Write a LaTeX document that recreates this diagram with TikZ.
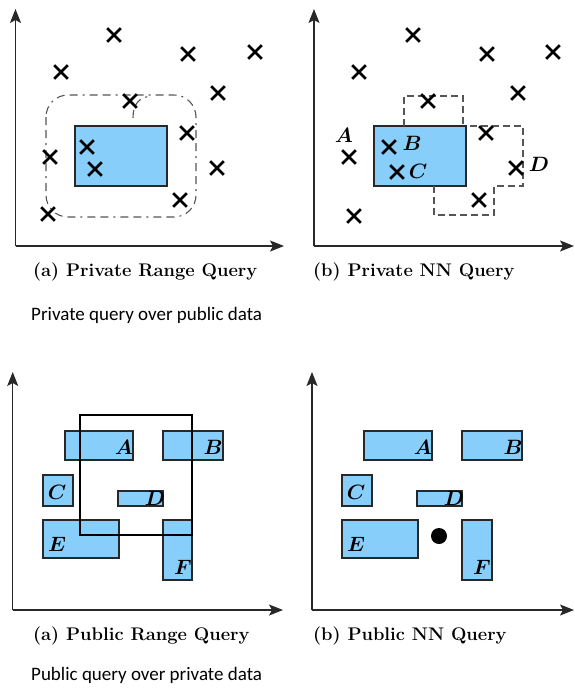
\documentclass[tikz,border=0pt]{standalone}
\usepackage{fontspec}
\newfontfamily\notefont{Carlito}
\usetikzlibrary{shapes.misc,arrows.meta,fit}
\definecolor{boxblue}{RGB}{135,206,250}
\definecolor{edgegray}{RGB}{40,40,40}
\definecolor{dashgray}{RGB}{85,85,85}
\tikzset{
  axis/.style={line width=1.2pt, draw=edgegray, -{Stealth[length=14pt,width=11pt,inset=3pt]}},
  datum/.style={cross out, draw=black, line width=2.7pt, inner sep=0pt, minimum size=11pt},
  region/.style={fill=boxblue, draw=edgegray, line width=1.2pt, inner sep=0pt},
  query/.style={draw=black, line width=1.1pt, inner sep=0pt},
  lab/.style={font=\fontsize{19.5}{22}\selectfont\boldmath, inner sep=0pt},
  caption/.style={font=\fontsize{18.3}{21}\selectfont\bfseries, anchor=base west, inner sep=0pt},
  note/.style={font=\fontsize{19}{22}\selectfont\notefont, anchor=base west, inner sep=0pt},
  rangeline/.style={draw=dashgray, line width=1.1pt, dash pattern=on 8pt off 5pt on 8pt off 5pt on 2pt off 5pt},
  nnline/.style={draw=dashgray, line width=1.1pt, dash pattern=on 7pt off 4pt},
}
\begin{document}
\begin{tikzpicture}[x=1pt, y=-1pt]
\useasboundingbox (0,0) rectangle (575,691);

% ---------- (a) private range query ----------
\coordinate (o1) at (15.5,246);
\coordinate (y1) at (15.5,9);
\coordinate (x1) at (284,246);
\draw[axis] (o1) -- (y1);
\draw[axis] (o1) -- (x1);
\draw[rangeline, rounded corners=22pt] (46,95) rectangle (196,217);
\draw[rangeline] (133,118) .. controls (133,104) and (139,97) .. (152,96);
\node[region, fit={(75,126)(167,186)}] (r1) {};
\foreach \n/\p in {a/{(114,35)}, b/{(188,54)}, c/{(255,52)}, d/{(61,72)},
                   e/{(218,93)}, f/{(130,101)}, g/{(187,133)}, h/{(87,147)},
                   i/{(50,157)}, j/{(95,169)}, k/{(217,168)}, l/{(180,200)},
                   m/{(48,214)}}
  \node[datum] (p1\n) at \p {};
\node[caption] (c1) at (33,276) {(a) Private Range Query};

% ---------- (b) private NN query ----------
\coordinate (o2) at (314,246);
\coordinate (y2) at (314,9);
\coordinate (x2) at (574,246);
\draw[axis] (o2) -- (y2);
\draw[axis] (o2) -- (x2);
\node[region, fit={(374,126)(466,186)}] (r2) {};
\draw[nnline] (404,126) -- (404,96) -- (463,96) -- (463,126);
\draw[nnline] (470,126) -- (523,126) -- (523,186) -- (494,186);
\draw[nnline] (434,186) -- (434,215) -- (494,215) -- (494,186);
\foreach \n/\p in {a/{(413,35)}, b/{(487,54)}, c/{(553,52)}, d/{(359,72)},
                   e/{(518,93)}, f/{(428,101)}, g/{(486,133)}, h/{(389,147)},
                   i/{(349,157)}, j/{(397,172)}, k/{(516,168)}, l/{(479,200)},
                   m/{(354,216)}}
  \node[datum] (p2\n) at \p {};
\node[lab] (nA) at (344,135) {$A$};
\node[lab] (nB) at (412,143) {$B$};
\node[lab] (nC) at (418,171) {$C$};
\node[lab] (nD) at (539,164) {$D$};
\node[caption] (c2) at (313,276) {(b) Private NN Query};

\node[note] (n1) at (31,320) {Private query over public data};

% ---------- (a) public range query ----------
\coordinate (o3) at (12.7,610);
\coordinate (y3) at (12.7,372);
\coordinate (x3) at (283,610);
\draw[axis] (o3) -- (y3);
\draw[axis] (o3) -- (x3);
\node[region, fit={(65,431)(133,460)}] (a3) {};
\node[region, fit={(163,431)(223,460)}] (b3) {};
\node[region, fit={(43,475)(73,506)}] (c3) {};
\node[region, fit={(118,491)(163,506)}] (d3) {};
\node[region, fit={(43,520)(119,558)}] (e3) {};
\node[region, fit={(163,520)(192,580)}] (f3) {};
\node[query, fit={(80,415)(192,535)}] (w3) {};
\node[lab] at (124,447) {$A$};
\node[lab] at (213,447) {$B$};
\node[lab] at (57,492) {$C$};
\node[lab] at (155,498) {$D$};
\node[lab] at (57,544) {$E$};
\node[lab] at (183,567) {$F$};
\node[caption] (k3) at (33,640) {(a) Public Range Query};

% ---------- (b) public NN query ----------
\coordinate (o4) at (312,610);
\coordinate (y4) at (312,372);
\coordinate (x4) at (574,610);
\draw[axis] (o4) -- (y4);
\draw[axis] (o4) -- (x4);
\node[region, fit={(364,431)(432,460)}] (a4) {};
\node[region, fit={(462,431)(522,460)}] (b4) {};
\node[region, fit={(342,475)(372,506)}] (c4) {};
\node[region, fit={(417,491)(462,506)}] (d4) {};
\node[region, fit={(342,520)(418,558)}] (e4) {};
\node[region, fit={(462,520)(492,580)}] (f4) {};
\node[circle, fill=black, minimum size=16pt, inner sep=0pt] (q4) at (439,536) {};
\node[lab] at (423,447) {$A$};
\node[lab] at (513,447) {$B$};
\node[lab] at (356,492) {$C$};
\node[lab] at (454,498) {$D$};
\node[lab] at (356,544) {$E$};
\node[lab] at (482,567) {$F$};
\node[caption] (k4) at (313,640) {(b) Public NN Query};

\node[note] (n2) at (31,680) {Public query over private data};
\end{tikzpicture}
\end{document}
